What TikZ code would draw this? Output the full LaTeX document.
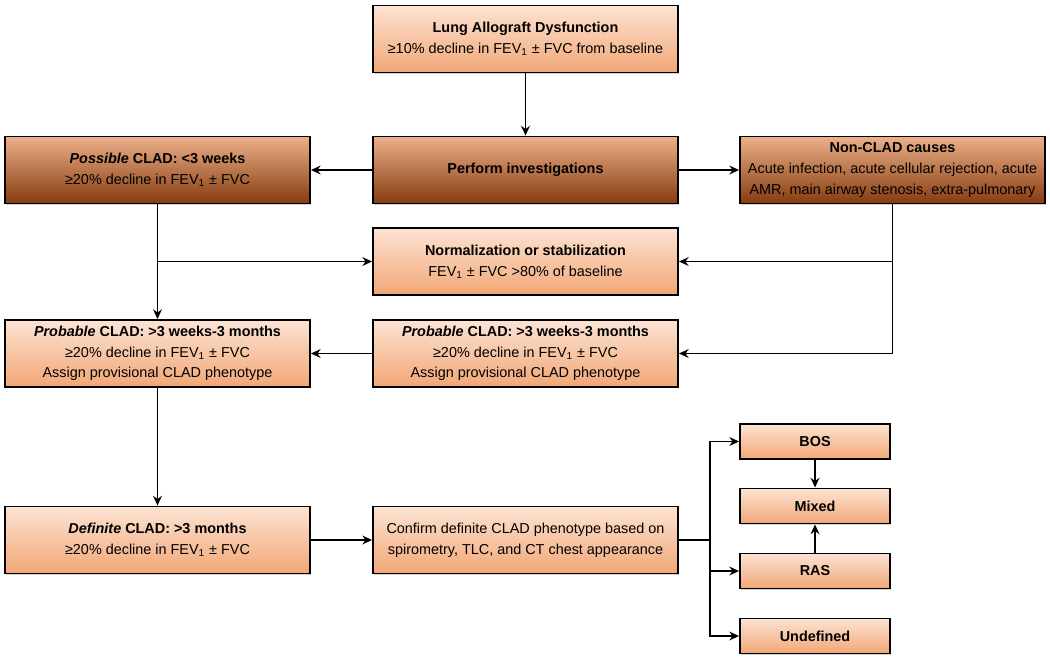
\documentclass[tikz,border=0pt]{standalone}
\usepackage{fontspec}
\setmainfont{Liberation Sans}
\usetikzlibrary{arrows.meta,shadows}

\definecolor{peachtop}{HTML}{FCE3D3}
\definecolor{peachbot}{HTML}{F2A776}
\definecolor{rusttop}{HTML}{EDB08A}
\definecolor{rustbot}{HTML}{853C0F}

\tikzset{
  box/.style={draw=black, line width=1.1pt, align=center, inner sep=2pt,
    minimum width=6.1cm, minimum height=1.34cm,
    top color=peachtop, bottom color=peachbot,
    drop shadow={shadow xshift=0.6pt, shadow yshift=-0.6pt, opacity=0.35}},
  darkbox/.style={box, top color=rusttop, bottom color=rustbot},
  smallbox/.style={box, minimum width=3cm, minimum height=0.7cm},
  arr/.style={line width=0.9pt, -{Stealth[length=5.5pt,width=5pt]}},
  ln/.style={line width=0.9pt}
}

\newcommand{\fev}{FEV\textsubscript{1}}

\begin{document}
\begin{tikzpicture}[x=0.02cm, y=-0.02cm, font=\fontsize{8.2}{11.8}\selectfont]
\useasboundingbox (0,0) rectangle (1050,660);

% top row
\node[box] (lad) at (525.5,39) {\textbf{Lung Allograft Dysfunction}\\≥10\% decline in \fev{} ± FVC from baseline};
\node[darkbox] (possible) at (157.5,170) {\textbf{\textit{Possible} CLAD: <3 weeks}\\≥20\% decline in \fev{} ± FVC};
\node[darkbox] (perform) at (525.5,170) {\textbf{Perform investigations}};
\node[darkbox] (noncl) at (892.5,170) {\textbf{Non-CLAD causes}\\Acute infection, acute cellular rejection, acute\\AMR, main airway stenosis, extra-pulmonary};

% middle
\node[box] (norm) at (525.5,261.5) {\textbf{Normalization or stabilization}\\\fev{} ± FVC >80\% of baseline};
\node[box] (prob1) at (157.5,353.5) {\textbf{\textit{Probable} CLAD: >3 weeks-3 months}\\≥20\% decline in \fev{} ± FVC\\Assign provisional CLAD phenotype};
\node[box] (prob2) at (525.5,353.5) {\textbf{\textit{Probable} CLAD: >3 weeks-3 months}\\≥20\% decline in \fev{} ± FVC\\Assign provisional CLAD phenotype};

% bottom
\node[box] (definite) at (157.5,540) {\textbf{\textit{Definite} CLAD: >3 months}\\≥20\% decline in \fev{} ± FVC};
\node[box] (confirm) at (525.5,540) {Confirm definite CLAD phenotype based on\\spirometry, TLC, and CT chest appearance};

% phenotypes
\node[smallbox] (bos) at (815,441.5) {\textbf{BOS}};
\node[smallbox] (mixed) at (815,506) {\textbf{Mixed}};
\node[smallbox] (ras) at (815,571) {\textbf{RAS}};
\node[smallbox] (undef) at (815,636) {\textbf{Undefined}};
\coordinate (split) at (710,540);

% connectors
\draw[arr] (lad) -- (perform);
\draw[arr] (perform) -- (possible);
\draw[arr] (perform) -- (noncl);
\draw[arr] (possible) -- (prob1);
\draw[arr] (possible.south |- norm) -- (norm.west);
\draw[arr] (noncl.south) |- (prob2.east);
\draw[arr] (noncl.south |- norm) -- (norm.east);
\draw[arr] (prob2) -- (prob1);
\draw[arr] (prob1) -- (definite);
\draw[arr] (definite) -- (confirm);
\draw[ln] (confirm.east) -- (split);
\draw[arr] (split) |- (bos.west);
\draw[arr] (split) |- (ras.west);
\draw[arr] (split) |- (undef.west);
\draw[arr] (bos) -- (mixed);
\draw[arr] (ras) -- (mixed);
\end{tikzpicture}
\end{document}
